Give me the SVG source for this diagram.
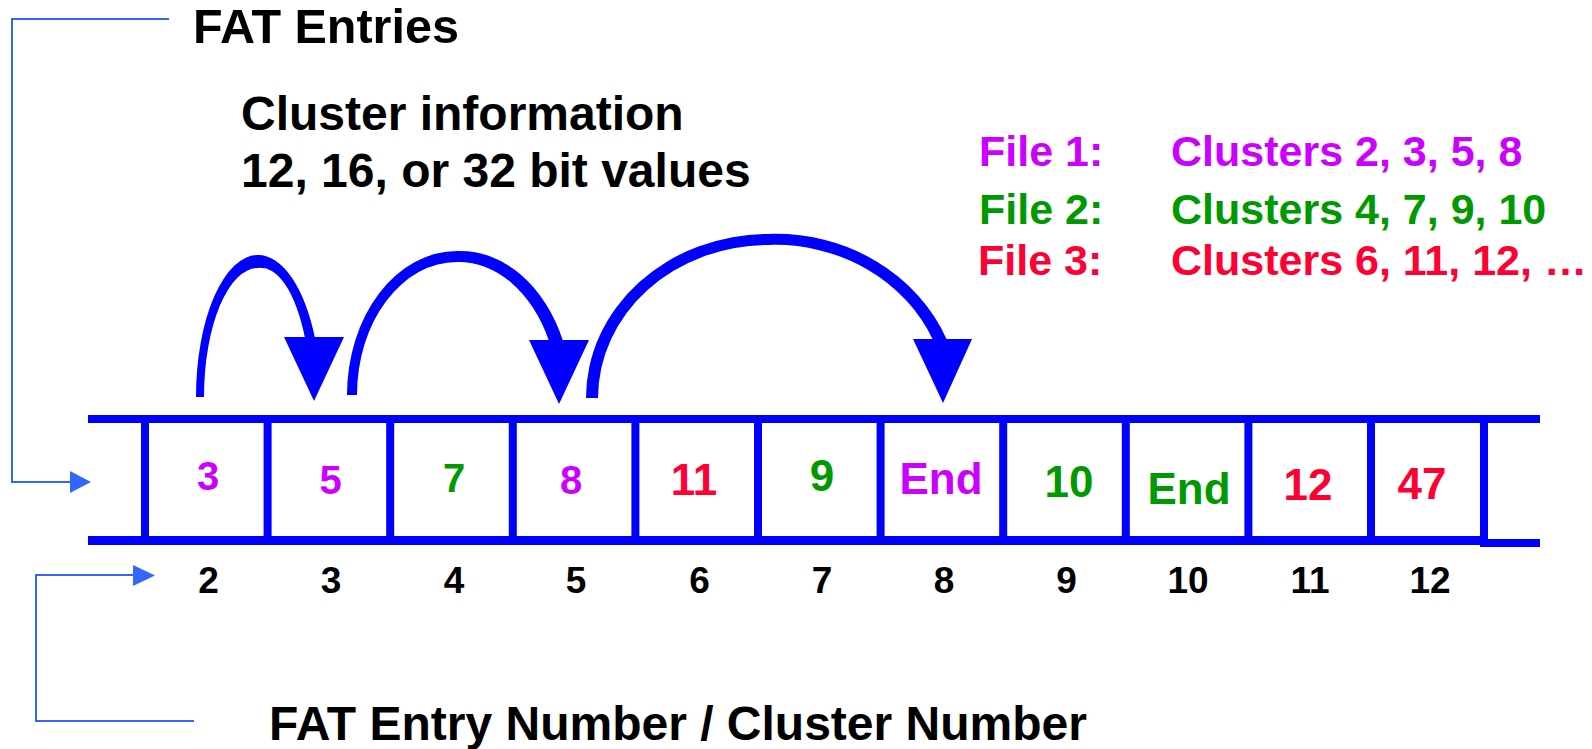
<svg xmlns="http://www.w3.org/2000/svg" width="1592" height="749" viewBox="0 0 1592 749">
<style>
text{font-family:"Liberation Sans",Arial,sans-serif;font-weight:bold}
.h{font-size:48px;fill:#000}
.f{font-size:43px}
.v{font-size:44px;text-anchor:middle}
.vs{font-size:40px;text-anchor:middle}
.n{font-size:37px;fill:#000;text-anchor:middle}
.mag{fill:#cc00ff}
.grn{fill:#009900}
.red{fill:#ff0033}
.rail{fill:#0000ff}
.br{fill:none;stroke:#3366ff;stroke-width:2}
.brh{fill:#3366ff}
.arc{fill:#0000ff}
</style>
<rect width="1592" height="749" fill="#fff"/>

<g id="labels">
<text class="h" x="193" y="43" style="font-size:48.5px">FAT Entries</text>
<text class="h" x="241" y="130">Cluster information</text>
<text class="h" x="241" y="187">12, 16, or 32 bit values</text>
<text class="h" x="269" y="740">FAT Entry Number / Cluster Number</text>
</g>

<g id="legend">
<text class="f mag" x="979" y="166">File 1:</text>
<text class="f mag" x="1171" y="166">Clusters 2, 3, 5, 8</text>
<text class="f grn" x="979" y="224">File 2:</text>
<text class="f grn" x="1171" y="224">Clusters 4, 7, 9, 10</text>
<text class="f red" x="978" y="275">File 3:</text>
<text class="f red" x="1171" y="275">Clusters 6, 11, 12, …</text>
</g>

<g id="fat-table">
<rect class="rail" x="88" y="415" width="1452" height="8"/>
<rect class="rail" x="88" y="536" width="1396" height="9"/>
<rect class="rail" x="1480" y="539" width="60" height="8"/>
<rect class="rail" x="141" y="415" width="8" height="130"/>
<rect class="rail" x="263.6" y="415" width="8" height="130"/>
<rect class="rail" x="386.2" y="415" width="8" height="130"/>
<rect class="rail" x="508.8" y="415" width="8" height="130"/>
<rect class="rail" x="631.4" y="415" width="8" height="130"/>
<rect class="rail" x="754" y="415" width="8" height="130"/>
<rect class="rail" x="876.6" y="415" width="8" height="130"/>
<rect class="rail" x="999.2" y="415" width="8" height="130"/>
<rect class="rail" x="1121.8" y="415" width="8" height="130"/>
<rect class="rail" x="1244.4" y="415" width="8" height="130"/>
<rect class="rail" x="1367" y="415" width="8" height="130"/>
<rect class="rail" x="1480" y="415" width="8" height="132"/>
</g>

<g id="cell-2"><text class="vs mag" x="208" y="490">3</text><text class="n" x="208.5" y="593">2</text></g>
<g id="cell-3"><text class="vs mag" x="330.5" y="494">5</text><text class="n" x="331" y="593">3</text></g>
<g id="cell-4"><text class="vs grn" x="454" y="492">7</text><text class="n" x="454" y="593">4</text></g>
<g id="cell-5"><text class="vs mag" x="571" y="494">8</text><text class="n" x="576" y="593">5</text></g>
<g id="cell-6"><text class="v red" x="694" y="495">11</text><text class="n" x="699.5" y="593">6</text></g>
<g id="cell-7"><text class="v grn" x="822" y="491">9</text><text class="n" x="822" y="593">7</text></g>
<g id="cell-8"><text class="v mag" x="941" y="494">End</text><text class="n" x="944" y="593">8</text></g>
<g id="cell-9"><text class="v grn" x="1069" y="497">10</text><text class="n" x="1066.5" y="593">9</text></g>
<g id="cell-10"><text class="v grn" x="1189" y="504">End</text><text class="n" x="1188" y="593">10</text></g>
<g id="cell-11"><text class="v red" x="1308" y="500">12</text><text class="n" x="1310" y="593">11</text></g>
<g id="cell-12"><text class="v red" x="1422" y="499">47</text><text class="n" x="1430" y="593">12</text></g>

<g id="connectors">
<path class="br" d="M169 19 H12 V482 H72"/>
<polygon class="brh" points="70,471 91,482 70,493"/>
<path class="br" d="M194 721 H36 V575 H135"/>
<polygon class="brh" points="133,565 155,575.5 133,586"/>

<path class="arc" d="M196 397 A62 142 0 0 1 258 255 A63 145 0 0 1 315 338 L305 338 A50 132 0 0 0 258 268 A54 129 0 0 0 204 397 Z"/>
<polygon class="arc" points="284,337 344,337 314,401"/>

<path class="arc" d="M347 395 A110 144 0 0 1 457 251 A112 150 0 0 1 563 341 L549 341 A100 139 0 0 0 457 262 A100 133 0 0 0 357 395 Z"/>
<polygon class="arc" points="529,340 589,340 559,404"/>

<path class="arc" d="M586 398 A182 164 0 0 1 768 234 A185 170 0 0 1 947 340 L933 340 A172 158 0 0 0 768 245 A170 153 0 0 0 598 398 Z"/>
<polygon class="arc" points="913,339 972,339 943,403"/>
</g>
</svg>
